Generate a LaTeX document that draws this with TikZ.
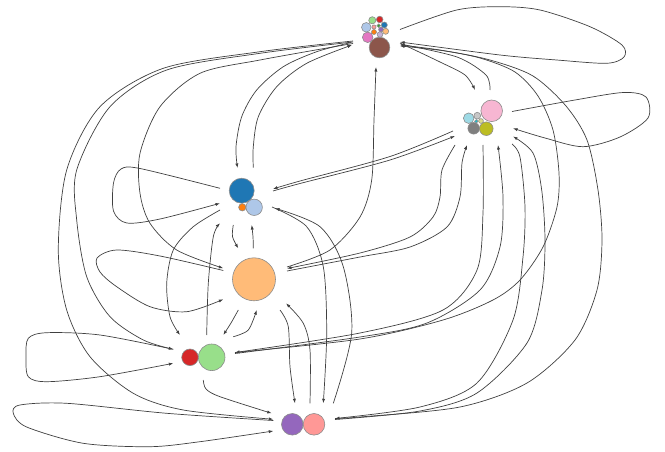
\documentclass[tikz,border=0pt]{standalone}
\usetikzlibrary{arrows.meta}
\definecolor{cblue}{HTML}{1F77B4}
\definecolor{clblue}{HTML}{AEC7E8}
\definecolor{corange}{HTML}{FF7F0E}
\definecolor{clorange}{HTML}{FFBB78}
\definecolor{cgreen}{HTML}{2CA02C}
\definecolor{clgreen}{HTML}{98DF8A}
\definecolor{cred}{HTML}{D62728}
\definecolor{csalmon}{HTML}{FF9896}
\definecolor{cpurple}{HTML}{9467BD}
\definecolor{clavender}{HTML}{C5B0D5}
\definecolor{cbrown}{HTML}{8C564B}
\definecolor{cpink}{HTML}{E377C2}
\definecolor{clpink}{HTML}{F7B6D2}
\definecolor{cgray}{HTML}{7F7F7F}
\definecolor{clgray}{HTML}{C7C7C7}
\definecolor{colive}{HTML}{BCBD22}
\definecolor{clolive}{HTML}{DBDB8D}
\definecolor{ccyan}{HTML}{17BECF}
\definecolor{clcyan}{HTML}{9EDAE5}
\tikzset{
  edge/.style={draw=black!75, line width=0.7pt, -{Latex[length=4.5pt,width=3.2pt]}},
  ball/.style={circle, draw=black!45, line width=0.6pt, inner sep=0pt, fill=#1},
}
\begin{document}
\begin{tikzpicture}[x=1pt,y=-1pt]
\useasboundingbox (0,0) rectangle (665,452);
% ---------- ports ----------
\coordinate (aL1) at (351,42.5);
\coordinate (aL2) at (352,45);
\coordinate (aL3) at (353,43.5);
\coordinate (aL4) at (353,42);
\coordinate (aL5) at (353,41);
\coordinate (aR0) at (400,29.5);
\coordinate (aR1) at (400,42);
\coordinate (aR2) at (400,43);
\coordinate (aR3) at (400,44);
\coordinate (aR4) at (400,45);
\coordinate (aR5) at (400,46);
\coordinate (aB) at (376,67);
\coordinate (bT1) at (475,90);
\coordinate (bT2) at (490,90);
\coordinate (bL1) at (453,131);
\coordinate (bL2) at (455,136);
\coordinate (bB1) at (455,145);
\coordinate (bB2) at (467,145);
\coordinate (bB3) at (483,145);
\coordinate (bB4) at (498,145);
\coordinate (bB5) at (512,144);
\coordinate (bB6) at (513,136.5);
\coordinate (bR1) at (512,111.5);
\coordinate (bR2) at (513,128.3);
\coordinate (cT1) at (237.5,168);
\coordinate (cT2) at (253.3,167.7);
\coordinate (cR1) at (273,189);
\coordinate (cR2) at (273,191);
\coordinate (cR3) at (272,207);
\coordinate (cR4) at (275,208.3);
\coordinate (cB1) at (233.3,225);
\coordinate (cB2) at (251.7,225);
\coordinate (cL1) at (220,188.3);
\coordinate (cL2) at (220,203.3);
\coordinate (cL3) at (220,210);
\coordinate (cL4) at (220,223.3);
\coordinate (dL1) at (223.3,268.3);
\coordinate (dL2) at (223.3,270.5);
\coordinate (dL3) at (223.3,299.3);
\coordinate (dR1) at (287,267);
\coordinate (dR2) at (287,268.5);
\coordinate (dR3) at (287,271);
\coordinate (dT1) at (238.3,248.3);
\coordinate (dT2) at (253.3,248.3);
\coordinate (dB1) at (238.3,310);
\coordinate (dB2) at (256.7,310);
\coordinate (dB3) at (280,310);
\coordinate (dB4) at (286,303.3);
\coordinate (eL1) at (173.3,349.3);
\coordinate (eL2) at (173.3,363.3);
\coordinate (eT1) at (180,335);
\coordinate (eT2) at (206.7,335);
\coordinate (eT3) at (223.3,335);
\coordinate (eT4) at (233.3,336.7);
\coordinate (eR1) at (235,352.5);
\coordinate (eR2) at (235,353.5);
\coordinate (eB) at (203.3,380);
\coordinate (fL1) at (271.7,413.3);
\coordinate (fL2) at (273.3,419.3);
\coordinate (fL3) at (273.3,420.5);
\coordinate (fL4) at (273.3,431);
\coordinate (fT1) at (295,403.3);
\coordinate (fT2) at (310,403.3);
\coordinate (fT3) at (323.3,403.3);
\coordinate (fT4) at (333.3,403.3);
\coordinate (fR1) at (335,418.5);
\coordinate (fR2) at (335,419.5);
% ---------- self loops ----------
\draw[edge] plot[smooth] coordinates {(aR0) (456.7,10) (500,6.7) (540,10) (590,26.7) (622,45) (624,57) (606.7,63.3) (556.7,60) (500,55) (aR1)};
\draw[edge] plot[smooth] coordinates {(bR1) (575,100) (623.3,92.5) (646,97) (648,118) (620,137) (583,146.7) (545,138) (bR2)};
\draw[edge] plot[smooth] coordinates {(cL1) (140,168.5) (121,169) (113.5,183) (113.5,211) (126.7,223) (160,219) (cL2)};
\draw[edge] plot[smooth] coordinates {(dL2) (160,256) (116.7,250) (97,258) (100,272) (116.7,286.7) (150,306.7) (186.7,311.7) (dL3)};
\draw[edge] plot[smooth] coordinates {(eL1) (100,335) (46.7,332.7) (28.3,338.3) (26,356.7) (28.3,376.7) (46.7,381.7) (100,376.7) (eL2)};
\draw[edge] plot[smooth] coordinates {(fL3) (166.7,413.3) (66.7,403.3) (20,405) (13.3,413.3) (26.7,427) (83.3,443.3) (150,446.7) (200,441.7) (fL4)};
% ---------- A edges ----------
\draw[edge] plot[smooth] coordinates {(aL1) (316.7,51.7) (283.3,66.7) (256.7,90) (241.7,116.7) (236,146.7) (cT1)};
\draw[edge] plot[smooth] coordinates {(cT2) (253.3,146.7) (258.3,116.7) (276.7,86.7) (306.7,63.3) (aL2)};
\draw[edge] plot[smooth] coordinates {(aL3) (260,60) (200,73.3) (160,106.7) (140,153.3) (140,193.3) (150,223.3) (176.7,250) (dL1)};
\draw[edge] plot[smooth] coordinates {(dR1) (330,250) (360,217) (371.7,180) (374,120) (aB)};
\draw[edge] plot[smooth] coordinates {(aL4) (260,53.3) (166.7,70) (110,106.7) (76.7,170) (76.7,220) (86.7,276.7) (110,316.7) (143.3,340) (eL1)};
\draw[edge] plot[smooth] coordinates {(aL5) (260,51.7) (163.3,68.3) (100,106.7) (66.7,170) (58.3,250) (66.7,310) (90,356.7) (133.3,393.3) (183.3,410) (fL2)};
\draw[edge] plot[smooth] coordinates {(aR2) (440,62) (465,75) (bT1)};
\draw[edge] plot[smooth] coordinates {(bT2) (486,75) (457,57) (aR3)};
\draw[edge] plot[smooth] coordinates {(eR1) (360,339) (443,320) (493,300) (520,280) (543,247) (557,207) (559,173) (553,130) (538,96) (515,72) (480,58) (440,50) (aR4)};
\draw[edge] plot[smooth] coordinates {(fR1) (360,417) (460,407) (527,383) (575,340) (597,290) (602,240) (598,190) (587,140) (566,106) (533,76) (490,60) (445,51) (aR5)};
% ---------- B edges ----------
\draw[edge] plot[smooth] coordinates {(bL1) (390,156.5) (300,181) (cR1)};
\draw[edge] plot[smooth] coordinates {(cR2) (300,183.5) (390,160) (bL2)};
\draw[edge] plot[smooth] coordinates {(bB1) (442,170) (440,197) (433,217) (410,237) (360,253) (dR2)};
\draw[edge] plot[smooth] coordinates {(dR3) (360,257) (410,247) (447,227) (460,197) (462,163) (bB2)};
\draw[edge] plot[smooth] coordinates {(bB3) (483,213) (477,270) (443,310) (360,333) (eR1)};
\draw[edge] plot[smooth] coordinates {(eR2) (360,337) (427,323) (480,290) (500,247) (503,197) (bB4)};
\draw[edge] plot[smooth] coordinates {(bB5) (520,157) (525,207) (523,257) (513,320) (477,383) (420,407) (fR1)};
\draw[edge] plot[smooth] coordinates {(fR2) (420,411) (477,393) (527,343) (542,290) (545,240) (541.7,190) (533,153) (bB6)};
% ---------- C, D, E, F edges ----------
\draw[edge] plot[smooth] coordinates {(cR3) (306.7,226.7) (323.3,266.7) (326.7,333) (fT3)};
\draw[edge] plot[smooth] coordinates {(fT4) (351.7,333) (343.3,266.7) (320,226.7) (cR4)};
\draw[edge] plot[smooth] coordinates {(dB3) (288.3,326.7) (290,366.7) (fT1)};
\draw[edge] plot[smooth] coordinates {(fT2) (310,350) (303.3,323.3) (dB4)};
\draw[edge] plot[smooth] coordinates {(cB1) (232.5,236.7) (dT1)};
\draw[edge] plot[smooth] coordinates {(dT2) (253,236.7) (cB2)};
\draw[edge] plot[smooth] coordinates {(cL3) (193.3,226.7) (173.3,250) (166.7,283.3) (170,316.7) (eT1)};
\draw[edge] plot[smooth] coordinates {(eT2) (208.3,283.3) (213.3,236.7) (cL4)};
\draw[edge] plot[smooth] coordinates {(dB1) (231,323) (eT3)};
\draw[edge] plot[smooth] coordinates {(eT4) (248.3,330) (dB2)};
\draw[edge] plot[smooth] coordinates {(eB) (206,389) (220,396.7) (fL1)};
% ---------- clusters ----------
% A (top)
\node[ball=cbrown, minimum size=20.6pt] (a1) at (379.5,47.5) {};
\node[ball=cpink, minimum size=10.6pt] (a2) at (367.7,37.3) {};
\node[ball=clblue, minimum size=9.6pt] (a3) at (366.3,27.3) {};
\node[ball=clgreen, minimum size=7.2pt] (a4) at (372.3,20.3) {};
\node[ball=cred, minimum size=6.6pt] (a5) at (379.7,19.5) {};
\node[ball=cblue, minimum size=6pt] (a6) at (384.3,25) {};
\node[ball=csalmon, minimum size=4.2pt] (a7) at (374,27) {};
\node[ball=cgreen, minimum size=3.6pt] (a8) at (378.7,25.7) {};
\node[ball=cpurple, minimum size=4.8pt] (a9) at (381,29.5) {};
\node[ball=corange, minimum size=5pt] (a10) at (374,32) {};
\node[ball=clorange, minimum size=6pt] (a11) at (385.7,31.3) {};
\node[ball=clavender, minimum size=5.6pt] (a12) at (380,34.5) {};
% B (right)
\node[ball=clpink, minimum size=21.6pt] (b1) at (491.7,110.8) {};
\node[ball=clcyan, minimum size=10.6pt] (b2) at (468.7,118.2) {};
\node[ball=cgray, minimum size=11.6pt] (b3) at (473.7,128.3) {};
\node[ball=colive, minimum size=13.6pt] (b4) at (486.3,128.7) {};
\node[ball=clgray, minimum size=6.8pt] (b5) at (477.3,115.7) {};
\node[ball=ccyan, minimum size=3.6pt] (b6) at (476.3,121.3) {};
\node[ball=clolive, minimum size=4.8pt] (b7) at (481,121) {};
% C
\node[ball=cblue, minimum size=25pt] (c1) at (241.7,190.7) {};
\node[ball=corange, minimum size=7.4pt] (c2) at (242.3,207.3) {};
\node[ball=clblue, minimum size=16.4pt] (c3) at (254.2,207.3) {};
% D
\node[ball=clorange, minimum size=43pt] (d1) at (254,279.3) {};
% E
\node[ball=cred, minimum size=16.6pt] (e1) at (190,357.3) {};
\node[ball=clgreen, minimum size=26.6pt] (e2) at (211.7,357.3) {};
% F
\node[ball=cpurple, minimum size=21.6pt] (f1) at (292.3,424.3) {};
\node[ball=csalmon, minimum size=21.6pt] (f2) at (314,424.3) {};
\end{tikzpicture}
\end{document}
